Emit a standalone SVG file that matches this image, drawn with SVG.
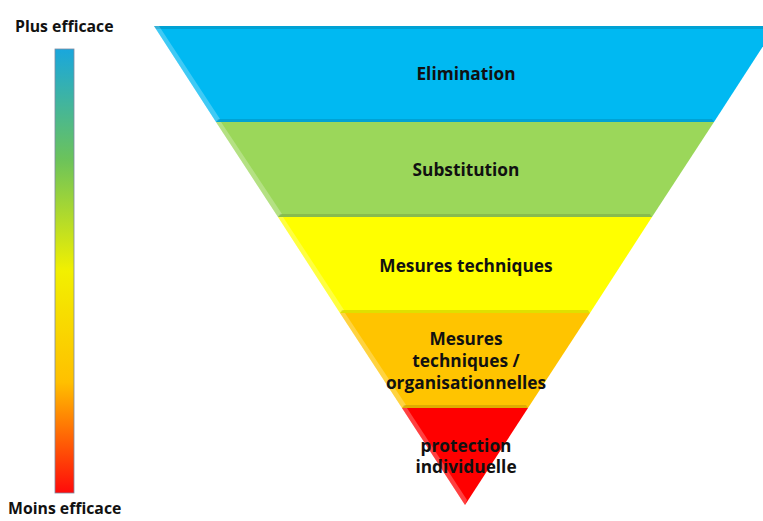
<svg xmlns="http://www.w3.org/2000/svg" width="763" height="521" viewBox="0 0 763 521">
<defs>
<linearGradient id="bar" x1="0" y1="0" x2="0" y2="1">
<stop offset="0" stop-color="#19A7DD"/>
<stop offset="0.25" stop-color="#6CC35A"/>
<stop offset="0.5" stop-color="#F2F000"/>
<stop offset="0.75" stop-color="#FFC000"/>
<stop offset="1" stop-color="#FF0A0A"/>
</linearGradient>
<style>
.t{font-family:"Open Sans","Liberation Sans",sans-serif;font-weight:bold;font-size:17.3px;fill:#111;text-anchor:middle}
.s{font-family:"Open Sans","Liberation Sans",sans-serif;font-weight:bold;font-size:15.8px;fill:#111}
.hl{fill:#fff;opacity:0.25}
.sh{fill:#000;opacity:0.12}
</style>
</defs>
<rect width="763" height="521" fill="#fff"/>
<g id="scale">
<rect x="55" y="49" width="19" height="444" fill="url(#bar)" stroke="#7d8aa0" stroke-width="0.8"/>
<text class="s" x="15" y="32">Plus efficace</text>
<text class="s" x="8" y="514">Moins efficace</text>
</g>
<g id="elimination">
<polygon points="154,26 776,26 714,122 216,122" fill="#00B9F2"/>
<polygon points="154,26 159,26 220,119 216,122" class="hl"/>
<polygon points="216,122 714,122 712,119 218,119" class="sh"/>
<polygon points="154,26 776,26 774,29 156,29" class="sh"/>
<text class="t" x="466" y="80">Elimination</text>
</g>
<g id="substitution">
<polygon points="216,122 714,122 652,217 278,217" fill="#9BD75A"/>
<polygon points="216,122 221,122 282,214 278,217" class="hl"/>
<polygon points="278,217 652,217 650,214 280,214" class="sh"/>
<text class="t" x="466" y="176">Substitution</text>
</g>
<g id="mesures-techniques">
<polygon points="278,217 652,217 590,313 340,313" fill="#FFFF00"/>
<polygon points="278,217 283,217 344,310 340,313" class="hl"/>
<polygon points="340,313 590,313 588,310 342,310" class="sh"/>
<text class="t" x="466" y="272">Mesures techniques</text>
</g>
<g id="mesures-organisationnelles">
<polygon points="340,313 590,313 528,408 402,408" fill="#FFC400"/>
<polygon points="340,313 345,313 406,405 402,408" class="hl"/>
<polygon points="402,408 528,408 526,405 404,405" class="sh"/>
<text class="t" x="466" y="345">Mesures</text>
<text class="t" x="466" y="367">techniques /</text>
<text class="t" x="466" y="389">organisationnelles</text>
</g>
<g id="protection">
<polygon points="402,408 528,408 465,505" fill="#FF0000"/>
<polygon points="402,408 407,408 467,500 465,505" class="hl"/>
<text class="t" x="466" y="452">protection</text>
<text class="t" x="466" y="473">individuelle</text>
</g>
<g id="connectors"/>
</svg>
